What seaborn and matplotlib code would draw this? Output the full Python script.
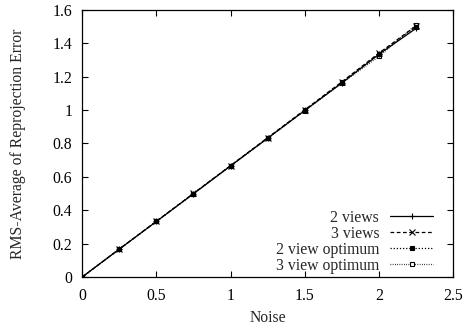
import numpy as np
import pandas as pd
import seaborn as sns
from matplotlib import pyplot as plt
from matplotlib.ticker import FormatStrFormatter

# ===== data =====
noise = [0, 0.25, 0.5, 0.75, 1.0, 1.25, 1.5, 1.75, 2.0, 2.25]
two_views = [0, 0.167, 0.333, 0.499, 0.666, 0.832, 0.998, 1.163, 1.335, 1.490]
three_views = [0, 0.168, 0.334, 0.501, 0.668, 0.835, 1.002, 1.170, 1.342, 1.505]
two_view_opt = [0, 0.167, 0.333, 0.500, 0.667, 0.833, 1.000, 1.166, 1.338, 1.500]
three_view_opt = [0, 0.166, 0.333, 0.499, 0.666, 0.831, 0.997, 1.162, 1.322, 1.512]

series = {
    "2 views": two_views,
    "3 views": three_views,
    "2 view optimum": two_view_opt,
    "3 view optimum": three_view_opt,
}

styles = {
    "2 views": dict(linestyle="-", marker="+", markersize=5, mfc="black", zorder=4),
    "3 views": dict(linestyle=(0, (3, 2)), marker="x", markersize=4, mfc="black", zorder=3),
    "2 view optimum": dict(linestyle=(0, (1, 1.5)), marker="s", markersize=3, mfc="black", zorder=5),
    "3 view optimum": dict(linestyle=(0, (0.6, 1.2)), marker="s", markersize=3.5, mfc="white", zorder=2),
}

FS = 11.3

sns.set_theme(style="ticks")
plt.rcParams['font.family'] = ['Liberation Serif', 'DejaVu Serif']
plt.rcParams['xtick.direction'] = 'in'
plt.rcParams['ytick.direction'] = 'in'

fig = plt.figure(figsize=(4.64, 3.31), dpi=100)
ax = fig.add_axes([0.177, 0.163, 0.800, 0.807])

for name, vals in series.items():
    df = pd.DataFrame({"noise": noise, "err": vals})
    sns.lineplot(data=df, x="noise", y="err", ax=ax, color="black",
                 lw=0.9, mec="black", mew=0.8, label=name, **styles[name])

ax.set_xlim(0, 2.5)
ax.set_ylim(0, 1.6)
ax.set_xticks(np.arange(0, 2.51, 0.5))
ax.set_yticks(np.arange(0, 1.61, 0.2))
ax.xaxis.set_major_formatter(FormatStrFormatter('%g'))
ax.yaxis.set_major_formatter(FormatStrFormatter('%g'))
ax.tick_params(axis='both', labelsize=FS, length=4, width=0.8,
               top=True, right=True, colors='black')
ax.tick_params(axis='x', pad=8)
ax.tick_params(axis='y', pad=7)
for sp in ax.spines.values():
    sp.set_linewidth(0.9)
    sp.set_color('black')

ax.set_xlabel("Noise", fontsize=FS, labelpad=4)
ax.set_ylabel("RMS-Average of Reprojection Error", fontsize=FS, labelpad=19)

ax.legend(loc="lower right", bbox_to_anchor=(0.946, 0.012), frameon=False,
          markerfirst=False, fontsize=FS, handlelength=2.75, handletextpad=0.7,
          labelspacing=0.0, borderaxespad=0, borderpad=0)

fig.savefig("out.png", dpi=100)
